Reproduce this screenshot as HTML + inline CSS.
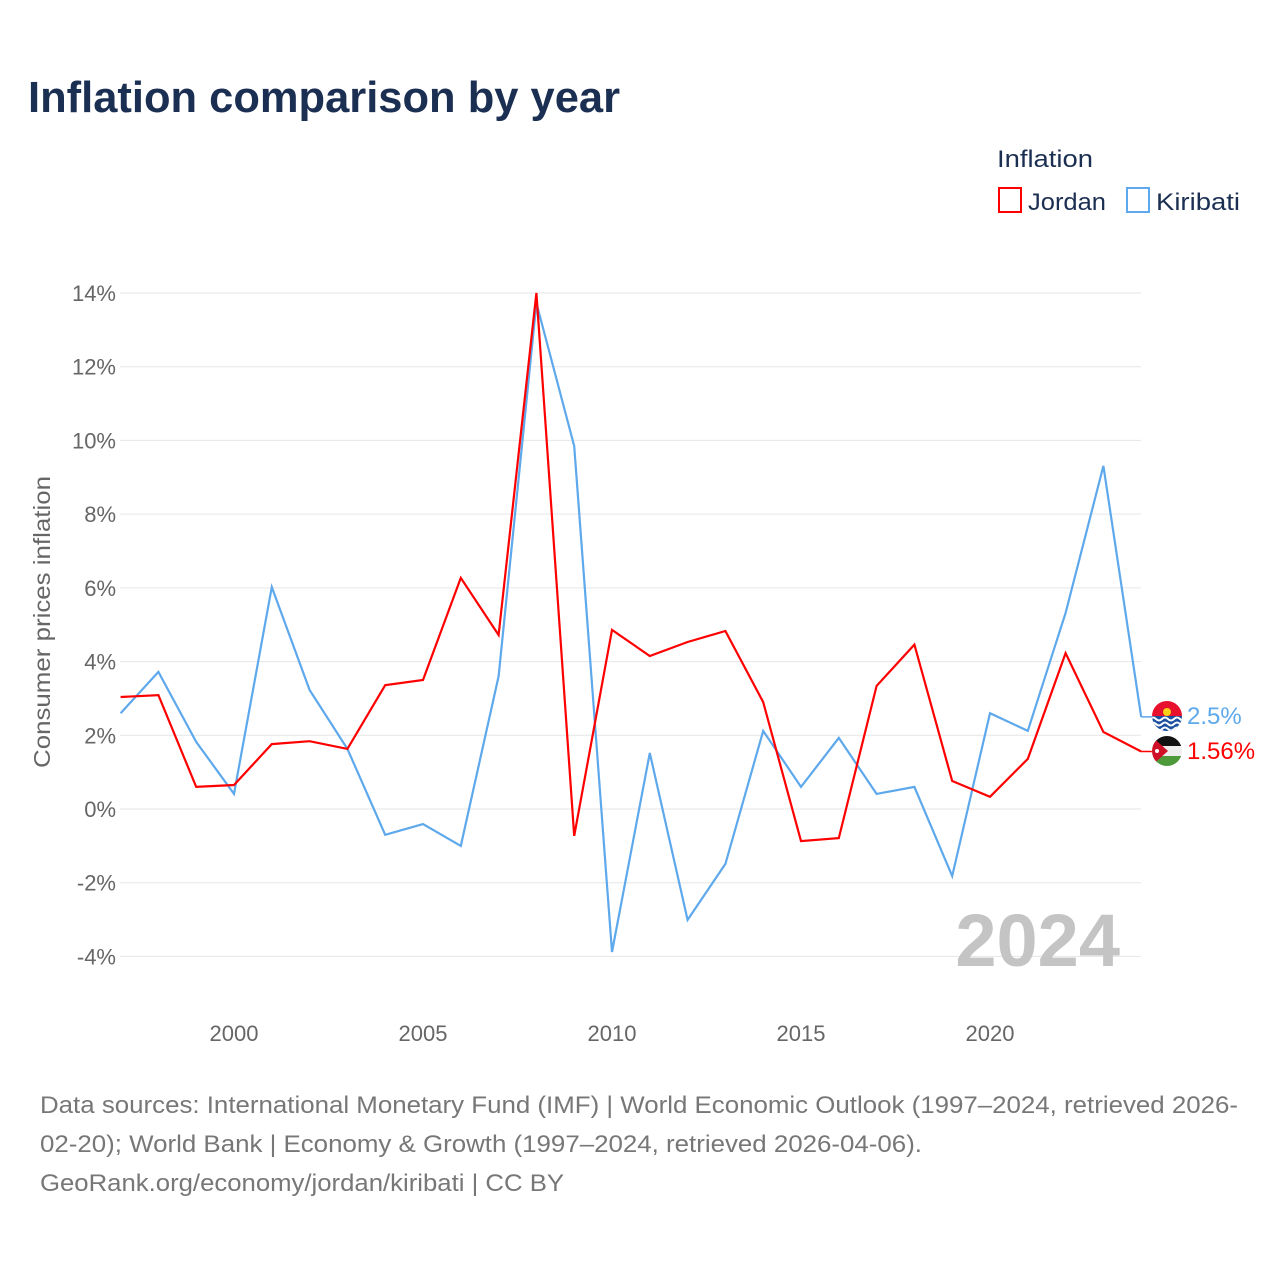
<!DOCTYPE html>
<html><head><meta charset="utf-8"><style>
html,body{margin:0;padding:0;background:#fff;}
svg{display:block;font-family:"Liberation Sans",sans-serif;}
</style></head><body>
<svg id="chart" width="1280" height="1280" viewBox="0 0 1280 1280">
<text x="28" y="112" font-size="44" font-weight="bold" fill="#1b2f52" textLength="592" lengthAdjust="spacingAndGlyphs">Inflation comparison by year</text>
<text x="997" y="167" font-size="24" fill="#1b2f52" textLength="96" lengthAdjust="spacingAndGlyphs">Inflation</text>
<g>
<rect x="999" y="188" width="22" height="24" fill="none" stroke="#ff0000" stroke-width="2"/>
<text x="1028" y="210" font-size="24" fill="#1b2f52" textLength="78" lengthAdjust="spacingAndGlyphs">Jordan</text>
</g>
<g>
<rect x="1127" y="188" width="22" height="24" fill="none" stroke="#5ea8ec" stroke-width="2"/>
<text x="1156" y="210" font-size="24" fill="#1b2f52" textLength="84" lengthAdjust="spacingAndGlyphs">Kiribati</text>
</g>
<g id="grid"></g>
<g id="yticks"></g>
<g id="xticks"></g>
<text transform="translate(50,622) rotate(-90)" text-anchor="middle" font-size="23" fill="#666" textLength="292" lengthAdjust="spacingAndGlyphs">Consumer prices inflation</text>
<text x="1120" y="966" text-anchor="end" font-size="74" font-weight="bold" fill="#c4c4c4">2024</text>
<g id="series"></g>
<g id="ends"></g>
<g font-size="24" fill="#777">
<text x="40" y="1113" textLength="1198" lengthAdjust="spacingAndGlyphs">Data sources: International Monetary Fund (IMF) | World Economic Outlook (1997–2024, retrieved 2026-</text>
<text x="40" y="1152" textLength="882" lengthAdjust="spacingAndGlyphs">02-20); World Bank | Economy &amp; Growth (1997–2024, retrieved 2026-04-06).</text>
<text x="40" y="1191" textLength="524" lengthAdjust="spacingAndGlyphs">GeoRank.org/economy/jordan/kiribati | CC BY</text>
</g>
</svg>
<script>
const years=[1997,1998,1999,2000,2001,2002,2003,2004,2005,2006,2007,2008,2009,2010,2011,2012,2013,2014,2015,2016,2017,2018,2019,2020,2021,2022,2023,2024];
const jordan=[3.04,3.09,0.6,0.65,1.76,1.84,1.63,3.36,3.5,6.27,4.72,14.0,-0.73,4.86,4.15,4.53,4.83,2.9,-0.87,-0.79,3.34,4.46,0.76,0.33,1.36,4.23,2.09,1.56];
const kiribati=[2.6,3.72,1.82,0.41,6.02,3.23,1.63,-0.7,-0.41,-1.0,3.6,13.73,9.85,-3.88,1.52,-3.01,-1.49,2.12,0.6,1.93,0.41,0.6,-1.82,2.6,2.12,5.32,9.31,2.5];
const yTicks=[-4,-2,0,2,4,6,8,10,12,14];
const xTicks=[2000,2005,2010,2015,2020];
const NS="http://www.w3.org/2000/svg";
const X=y=>120.6+(y-1997)*37.8;
const Y=v=>809-v*36.857;
function mk(t,a,p){const e=document.createElementNS(NS,t);for(const k in a)e.setAttribute(k,a[k]);p.appendChild(e);return e;}
const grid=document.getElementById('grid'),yt=document.getElementById('yticks'),xt=document.getElementById('xticks');
yTicks.forEach(v=>{
 const l=mk('line',{x1:120,x2:1141,y1:Y(v),y2:Y(v),stroke:'#e6e6e6','stroke-width':1},grid);
 
 
 const t=mk('text',{x:116,y:Y(v)+8,'text-anchor':'end','font-size':22,fill:'#666'},yt);
 t.textContent=v+'%';
 
 
});
xTicks.forEach(v=>{
 const t=mk('text',{x:X(v),y:1041,'text-anchor':'middle','font-size':22,fill:'#666'},xt);
 t.textContent=v;
 
 
});
const sg=document.getElementById('series');
function line(vals,col,name){
 const d=vals.map((v,i)=>(i?'L':'M')+X(years[i]).toFixed(1)+','+Y(v).toFixed(1)).join('');
 const p=mk('path',{d:d,fill:'none',stroke:col,'stroke-width':2.2,'stroke-linejoin':'miter'},sg);
 
 
}
line(kiribati,'#5ea8ec','line-kiribati');
line(jordan,'#ff0000','line-jordan');
const eg=document.getElementById('ends');
const lx=X(2024);
function endLabel(v,col,ly,txt,name){
 const c=mk('path',{d:`M${lx},${Y(v)}L${lx+10},${Y(v)}L${lx+10},${ly}`,fill:'none',stroke:col,'stroke-width':1.5},eg);
 
 
 const t=mk('text',{x:1187,y:ly+8,'font-size':24,fill:col},eg);
 t.textContent=txt;
 
 
}
endLabel(kiribati[27],'#5ea8ec',716,kiribati[27]+'%','kiribati');
endLabel(jordan[27],'#ff0000',751,jordan[27]+'%','jordan');
// flags
const fk=mk('g',{},eg);
mk('clipPath',{id:'ck'},fk).appendChild(Object.assign(document.createElementNS(NS,'circle'),{}));
fk.querySelector('clipPath circle').setAttribute('cx',1167);fk.querySelector('clipPath circle').setAttribute('cy',716);fk.querySelector('clipPath circle').setAttribute('r',15);
const gk=mk('g',{'clip-path':'url(#ck)'},fk);
mk('rect',{x:1150,y:700,width:34,height:17,fill:'#e8112d'},gk);
mk('rect',{x:1150,y:716,width:34,height:17,fill:'#1c4fa0'},gk);
[719,724,729].forEach(y=>mk('path',{d:`M1150,${y}q3,-3 6,0t6,0t6,0t6,0t6,0t6,0`,fill:'none',stroke:'#fff','stroke-width':2},gk));
mk('circle',{cx:1167,cy:712,r:4,fill:'#fcd116'},gk);
const fj=mk('g',{},eg);
const cj=mk('clipPath',{id:'cj'},fj);mk('circle',{cx:1167,cy:751,r:15},cj);
const gj=mk('g',{'clip-path':'url(#cj)'},fj);
mk('rect',{x:1150,y:735,width:34,height:11,fill:'#111'},gj);
mk('rect',{x:1150,y:746,width:34,height:10,fill:'#eee'},gj);
mk('rect',{x:1150,y:756,width:34,height:12,fill:'#4e9a3a'},gj);
mk('path',{d:'M1150,735L1168,751L1150,767Z',fill:'#ce1126'},gj);
mk('circle',{cx:1157,cy:751,r:2,fill:'#fff'},gj);
</script>
</body></html>
